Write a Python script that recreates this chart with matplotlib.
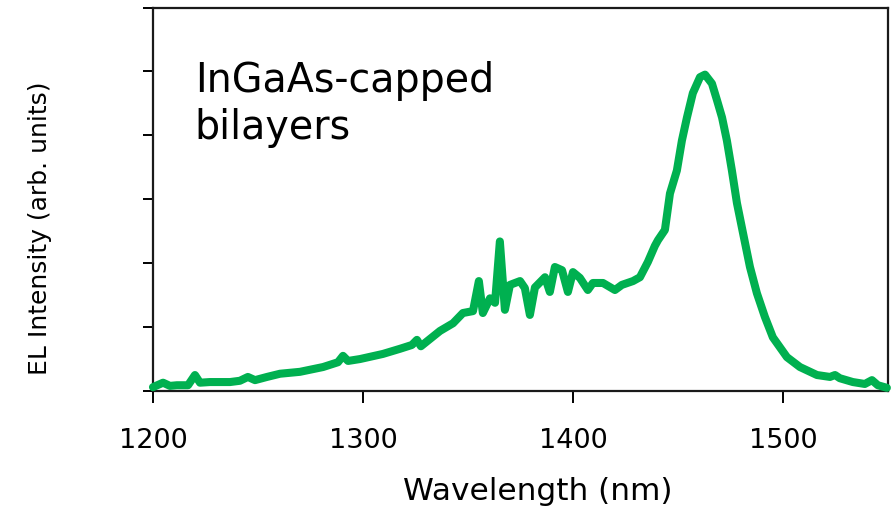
import matplotlib
matplotlib.use("Agg")  # headless
import matplotlib.pyplot as plt

# EL spectrum, wavelength in nm, intensity in arbitrary units
wavelength = [1200.0, 1204.8, 1208.1, 1211.4, 1216.7, 1220.0, 1222.4, 1227.1, 1236.7, 1241.4,
              1245.2, 1248.6, 1254.3, 1260.5, 1270.0, 1281.0, 1288.1, 1290.5, 1292.9, 1298.6,
              1309.5, 1317.6, 1323.3, 1325.7, 1327.6, 1336.7, 1342.9, 1347.6, 1352.4, 1355.2,
              1357.1, 1360.5, 1362.9, 1365.2, 1367.6, 1370.0, 1374.8, 1377.1, 1379.5, 1381.9,
              1386.7, 1389.0, 1391.4, 1394.8, 1397.6, 1400.0, 1403.3, 1407.1, 1409.5, 1414.3,
              1420.0, 1423.3, 1428.6, 1431.9, 1435.7, 1439.0, 1440.5, 1443.8, 1446.2, 1449.5,
              1451.9, 1454.3, 1457.1, 1460.5, 1462.9, 1466.2, 1468.6, 1471.0, 1473.3, 1475.7,
              1478.1, 1481.0, 1484.3, 1487.6, 1491.4, 1495.2, 1501.9, 1508.1, 1516.2, 1522.4,
              1524.8, 1527.1, 1533.3, 1539.0, 1542.4, 1545.2, 1549.5]
intensity = [0.06, 0.13, 0.08, 0.09, 0.09, 0.25, 0.13, 0.14, 0.14, 0.16,
             0.22, 0.17, 0.22, 0.27, 0.30, 0.375, 0.45, 0.55, 0.47, 0.50,
             0.58, 0.66, 0.72, 0.80, 0.70, 0.94, 1.06, 1.22, 1.25, 1.72,
             1.22, 1.45, 1.38, 2.34, 1.27, 1.66, 1.72, 1.61, 1.19, 1.62,
             1.78, 1.55, 1.94, 1.89, 1.55, 1.86, 1.77, 1.58, 1.69, 1.69,
             1.58, 1.66, 1.72, 1.78, 2.02, 2.27, 2.36, 2.52, 3.09, 3.45,
             3.92, 4.28, 4.66, 4.91, 4.95, 4.81, 4.55, 4.28, 3.92, 3.45,
             2.94, 2.47, 1.94, 1.53, 1.16, 0.84, 0.53, 0.375, 0.25, 0.22,
             0.25, 0.20, 0.14, 0.11, 0.17, 0.09, 0.05]

x_ticks = [1200, 1300, 1400, 1500]
y_ticks = [0, 1, 2, 3, 4, 5, 6]

fig = plt.figure(figsize=(8.94, 5.14), dpi=100)
ax = fig.add_axes([0.1711, 0.2393, 0.8221, 0.7461])

ax.plot(wavelength, intensity, color="#00B050", linewidth=5.8,
        solid_joinstyle="round", solid_capstyle="round", clip_on=False, zorder=3)

ax.set_xlim(1200, 1550)
ax.set_ylim(0, 6)
ax.set_xticks(x_ticks)
ax.set_yticks(y_ticks)
ax.set_yticklabels([])

for s in ax.spines.values():
    s.set_linewidth(1.6)
    s.set_color("#1a1a1a")
ax.tick_params(axis="x", direction="out", length=8.5, width=1.4, pad=18, labelsize=19.5)
ax.tick_params(axis="y", direction="out", length=7.5, width=1.4)

ax.set_xlabel("Wavelength (nm)", fontsize=22.5)
ax.set_ylabel("EL Intensity (arb. units)", fontsize=18)
ax.xaxis.set_label_coords(0.524, -0.225)
ax.yaxis.set_label_coords(-0.138, 0.425)

ax.text(0.057, 0.86, "InGaAs-capped\nbilayers", transform=ax.transAxes,
        fontsize=28.5, ha="left", va="top", linespacing=1.22)

fig.savefig("out.png", dpi=100)
